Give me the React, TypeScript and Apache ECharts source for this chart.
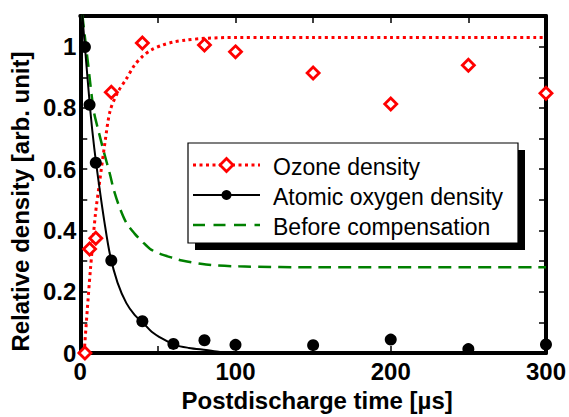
import React, { useEffect, useRef } from "react";
import * as echarts from "echarts";

const ozoneTime = [3, 6, 10, 20, 40, 80, 100, 150, 200, 250, 300];
const ozoneDensity = [0, 0.34, 0.375, 0.851, 1.012, 1.005, 0.983, 0.914, 0.813, 0.939, 0.848];

const oxygenTime = [3, 6, 10, 20, 40, 60, 80, 100, 150, 200, 250, 300];
const oxygenDensity = [0.999, 0.81, 0.621, 0.302, 0.104, 0.03, 0.042, 0.027, 0.026, 0.044, 0.013, 0.028];

// Fitted curves
const ozoneFitTime = [2.5, 4.5, 6.5, 9.7, 12.5, 16, 19.2, 24, 29.7, 35, 40.3, 46, 52.9, 60, 67.6, 80, 100, 150, 200, 250, 300];
const ozoneFitDensity = [0, 0.14, 0.27, 0.45, 0.56, 0.69, 0.79, 0.85, 0.895, 0.94, 0.969, 0.99, 1.005, 1.015, 1.021, 1.027, 1.03, 1.03, 1.03, 1.03, 1.03];

const oxygenFitTime = [1.3, 3, 6.5, 9, 12.4, 15.5, 19.2, 24, 29.7, 35, 40.3, 46, 52.9, 61.3, 70, 81, 90, 98];
const oxygenFitDensity = [1.105, 1.0, 0.79, 0.67, 0.538, 0.43, 0.32, 0.23, 0.163, 0.125, 0.1, 0.07, 0.047, 0.026, 0.017, 0.01, 0.004, 0];

const beforeTime = [1.3, 5, 8.7, 12, 15, 19.2, 21.3, 25, 29.7, 35, 40.3, 45, 50.8, 60, 65.5, 81, 102, 155, 200, 250, 300];
const beforeDensity = [1.105, 0.945, 0.79, 0.72, 0.66, 0.582, 0.538, 0.48, 0.425, 0.39, 0.362, 0.34, 0.325, 0.31, 0.302, 0.289, 0.283, 0.28, 0.28, 0.28, 0.28];

const xTicks = [0, 100, 200, 300];
const yTicks = [0, 0.2, 0.4, 0.6, 0.8, 1];

const legendNames = ["Ozone density", "Atomic oxygen density", "Before compensation"];

const FONT = "'Liberation Sans', Arial, sans-serif";

const pairs = (xs: number[], ys: number[]) => xs.map((x, i) => [x, ys[i]]);

export default function App() {
  const ref = useRef<HTMLDivElement>(null);

  useEffect(() => {
    if (!ref.current) return;
    const chart = echarts.init(ref.current, undefined, { renderer: "svg" });

    const axisLine = { show: true, onZero: false, lineStyle: { color: "#000", width: 4 } };
    const tick = { show: true, inside: true, length: 7, lineStyle: { color: "#000", width: 1.5 } };
    const labelFont = { fontFamily: FONT, fontWeight: "bold" as const, fontSize: 24, color: "#000" };

    const lx = 188, ly = 143, lw = 330, lh = 100;
    const symX1 = 193, symX2 = 260, symC = 226.5, textX = 273;
    const rowY = [165, 195, 225];

    chart.setOption({
      animation: false,
      backgroundColor: "#fff",
      grid: { left: 75, right: 19.5, top: 16, bottom: 52, containLabel: false },
      xAxis: [
        {
          type: "value",
          min: 0,
          max: 300,
          interval: 50,
          axisLine,
          axisTick: tick,
          splitLine: { show: false },
          axisLabel: {
            ...labelFont,
            margin: 6,
            formatter: (v: number) => (xTicks.includes(v) ? String(v) : ""),
          },
          name: "Postdischarge time [\u00b5s]",
          nameLocation: "middle",
          nameGap: 22,
          nameTextStyle: { ...labelFont, padding: [0, 0, 0, 8] },
        },
        {
          type: "value",
          position: "top",
          min: 0,
          max: 300,
          interval: 50,
          axisLine,
          axisTick: tick,
          splitLine: { show: false },
          axisLabel: { show: false },
        },
      ],
      yAxis: [
        {
          type: "value",
          min: 0,
          max: 1.1,
          interval: 0.1,
          axisLine,
          axisTick: tick,
          splitLine: { show: false },
          axisLabel: {
            ...labelFont,
            margin: 4,
            formatter: (v: number) => {
              const k = Math.round(v * 10);
              const t = yTicks.find((y) => Math.round(y * 10) === k);
              return t === undefined ? "" : String(t);
            },
          },
          name: "Relative density [arb. unit]",
          nameLocation: "middle",
          nameGap: 42,
          nameRotate: 90,
          nameTextStyle: { ...labelFont, padding: [0, 34, 0, 0] },
        },
        {
          type: "value",
          position: "right",
          min: 0,
          max: 1.1,
          interval: 0.1,
          axisLine,
          axisTick: tick,
          splitLine: { show: false },
          axisLabel: { show: false },
        },
      ],
      series: [
        {
          name: legendNames[2],
          type: "line",
          data: pairs(beforeTime, beforeDensity),
          showSymbol: false,
          symbol: "none",
          smooth: 0.3,
          lineStyle: { color: "#008000", width: 2.5, type: [13, 7] },
          z: 2,
        },
        {
          name: legendNames[0] + " fit",
          type: "line",
          data: pairs(ozoneFitTime, ozoneFitDensity),
          showSymbol: false,
          symbol: "none",
          smooth: 0.3,
          lineStyle: { color: "#ff0000", width: 3, type: [3, 3.5] },
          z: 2,
        },
        {
          name: legendNames[1] + " fit",
          type: "line",
          data: pairs(oxygenFitTime, oxygenFitDensity),
          showSymbol: false,
          symbol: "none",
          smooth: 0.3,
          lineStyle: { color: "#000", width: 2 },
          z: 3,
        },
        {
          name: legendNames[0],
          type: "scatter",
          data: pairs(ozoneTime, ozoneDensity),
          symbol: "diamond",
          symbolSize: 12,
          clip: false,
          itemStyle: { color: "#fff", borderColor: "#ff0000", borderWidth: 2.8, opacity: 1 },
          z: 4,
        },
        {
          name: legendNames[1],
          type: "scatter",
          data: pairs(oxygenTime, oxygenDensity),
          symbol: "circle",
          symbolSize: 12,
          clip: false,
          itemStyle: { color: "#000", opacity: 1 },
          z: 5,
        },
      ],
      graphic: [
        {
          type: "group",
          z: 100,
          children: [
            { type: "rect", shape: { x: lx + 7, y: ly + 7, width: lw, height: lh }, style: { fill: "#000" } },
            {
              type: "rect",
              shape: { x: lx, y: ly, width: lw, height: lh },
              style: { fill: "#fff", stroke: "#000", lineWidth: 1.2 },
            },
            {
              type: "line",
              shape: { x1: symX1, y1: rowY[0], x2: symX2, y2: rowY[0] },
              style: { stroke: "#ff0000", lineWidth: 3, lineDash: [3, 3.5] },
            },
            {
              type: "polygon",
              shape: {
                points: [
                  [symC, rowY[0] - 6.5],
                  [symC + 6.5, rowY[0]],
                  [symC, rowY[0] + 6.5],
                  [symC - 6.5, rowY[0]],
                ],
              },
              style: { fill: "#fff", stroke: "#ff0000", lineWidth: 2.8 },
            },
            {
              type: "line",
              shape: { x1: symX1, y1: rowY[1], x2: symX2, y2: rowY[1] },
              style: { stroke: "#000", lineWidth: 2 },
            },
            { type: "circle", shape: { cx: symC, cy: rowY[1], r: 5 }, style: { fill: "#000" } },
            {
              type: "line",
              shape: { x1: symX1, y1: rowY[2], x2: symX2, y2: rowY[2] },
              style: { stroke: "#008000", lineWidth: 2.5, lineDash: [12, 8.5] },
            },
            ...legendNames.map((t, i) => ({
              type: "text",
              x: textX,
              y: rowY[i] + 1.5,
              style: {
                text: t,
                fontFamily: FONT,
                fontSize: 23,
                fill: "#000",
                align: "left",
                verticalAlign: "middle",
              },
            })),
          ],
        },
      ],
    });

    return () => chart.dispose();
  }, []);

  return (
    <div
      ref={ref}
      style={{ position: "fixed", left: 0, top: 0, width: 569, height: 417, background: "#fff" }}
    />
  );
}
